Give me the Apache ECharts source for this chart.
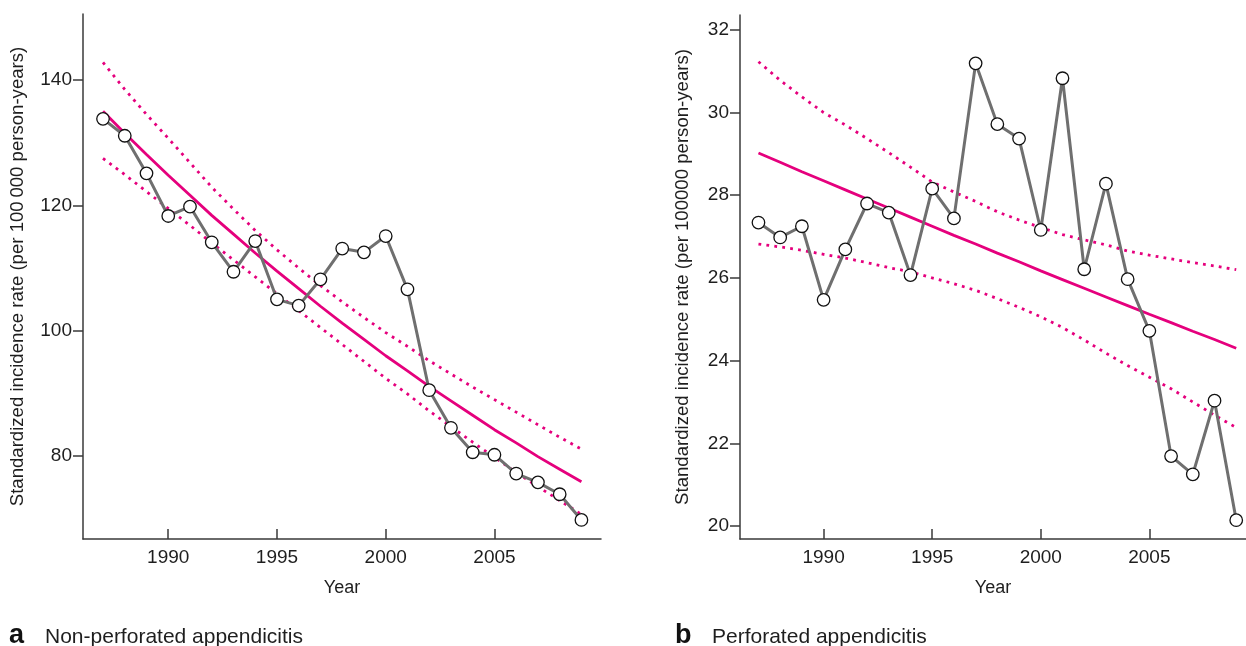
<!DOCTYPE html>
<html>
<head>
<meta charset="utf-8">
<script src="https://cdn.jsdelivr.net/npm/echarts/dist/echarts.min.js"></script>
<style>
  html, body { margin: 0; padding: 0; background: #fff; }
  #chart { width: 1246px; height: 646px; }
</style>
</head>
<body>
<div id="chart"></div>
<script>
const years = [1987, 1988, 1989, 1990, 1991, 1992, 1993, 1994, 1995, 1996, 1997, 1998,
  1999, 2000, 2001, 2002, 2003, 2004, 2005, 2006, 2007, 2008, 2009];

// a: non-perforated
const nonPerfRate = [133.8, 131.1, 125.1, 118.3, 119.8, 114.1, 109.4, 114.3, 105.0, 104.0, 108.2, 113.1,
  112.5, 115.1, 106.6, 90.5, 84.5, 80.6, 80.2, 77.2, 75.8, 73.9, 69.8];
const nonPerfFit = [135.0, 131.5, 128.1, 124.8, 121.6, 118.4, 115.4, 112.4, 109.5, 106.7, 103.9, 101.2,
  98.6, 96.0, 93.6, 91.1, 88.8, 86.5, 84.2, 82.1, 79.9, 77.9, 75.9];
const nonPerfUpper = [142.8, 138.5, 134.5, 130.7, 126.8, 122.9, 119.4, 116.0, 112.9, 110.0, 107.2, 104.6,
  102.1, 99.7, 97.5, 95.2, 93.1, 91.0, 89.0, 87.0, 85.0, 83.0, 81.1];
const nonPerfLower = [127.5, 124.9, 122.2, 119.5, 116.8, 114.0, 111.3, 108.6, 105.9, 103.2, 100.5, 97.8,
  95.1, 92.4, 89.9, 87.2, 84.7, 82.2, 79.8, 77.4, 75.1, 72.9, 70.7];

// b: perforated
const perfRate = [27.34, 26.98, 27.25, 25.47, 26.69, 27.80, 27.58, 26.07, 28.16, 27.44, 31.19, 29.72,
  29.37, 27.16, 30.83, 26.21, 28.28, 25.97, 24.72, 21.69, 21.25, 23.03, 20.14];
const perfFit = [29.02, 28.80, 28.57, 28.35, 28.13, 27.91, 27.69, 27.47, 27.25, 27.03, 26.82, 26.60,
  26.39, 26.17, 25.96, 25.75, 25.54, 25.33, 25.12, 24.92, 24.71, 24.51, 24.30];
const perfUpper = [31.23, 30.78, 30.38, 30.00, 29.70, 29.37, 29.03, 28.68, 28.32, 28.08, 27.85, 27.60,
  27.40, 27.22, 27.05, 26.92, 26.80, 26.65, 26.55, 26.46, 26.37, 26.29, 26.20];
const perfLower = [26.82, 26.75, 26.67, 26.57, 26.48, 26.37, 26.25, 26.15, 26.00, 25.86, 25.70, 25.50,
  25.29, 25.06, 24.80, 24.50, 24.18, 23.88, 23.60, 23.32, 23.00, 22.68, 22.38];

const yearTicks = [1990, 1995, 2000, 2005];
const nonPerfTicks = [80, 100, 120, 140];
const perfTicks = [20, 22, 24, 26, 28, 30, 32];

const FONT = "'Liberation Sans', Arial, Helvetica, sans-serif";
const AXIS_COLOR = "#3a3a3a";
const TEXT_COLOR = "#1e1e1e";
const MAGENTA = "#e5007d";
const GREY = "#6f6f6f";

const pairs = (vals) => years.map((y, i) => [y, vals[i]]);

function xAxisFor(gridIndex, min, max) {
  return {
    type: "value",
    gridIndex: gridIndex,
    min: min,
    max: max,
    name: "Year",
    nameLocation: "middle",
    nameGap: 40,
    nameTextStyle: { fontFamily: FONT, fontSize: 18, color: TEXT_COLOR },
    axisLine: { show: true, onZero: false, lineStyle: { color: AXIS_COLOR, width: 1.5 } },
    axisTick: { show: true, inside: true, length: 10, customValues: yearTicks,
      lineStyle: { color: AXIS_COLOR, width: 1.5 } },
    axisLabel: { customValues: yearTicks, fontFamily: FONT, fontSize: 19, color: TEXT_COLOR, margin: 9,
      formatter: (v) => String(v) },
    splitLine: { show: false },
  };
}

function yAxisFor(gridIndex, min, max, ticks, name, gap) {
  return {
    type: "value",
    gridIndex: gridIndex,
    min: min,
    max: max,
    name: name,
    nameLocation: "middle",
    nameRotate: 90,
    nameGap: gap,
    nameTextStyle: { fontFamily: FONT, fontSize: 18.6, color: TEXT_COLOR },
    axisLine: { show: true, onZero: false, lineStyle: { color: AXIS_COLOR, width: 1.5 } },
    axisTick: { show: true, inside: false, length: 10, customValues: ticks,
      lineStyle: { color: AXIS_COLOR, width: 1.5 } },
    axisLabel: { customValues: ticks, fontFamily: FONT, fontSize: 19, color: TEXT_COLOR, margin: 11,
      formatter: (v) => String(v) },
    splitLine: { show: false },
  };
}

function bandSeries(idx, vals) {
  return {
    type: "line",
    xAxisIndex: idx,
    yAxisIndex: idx,
    data: pairs(vals),
    showSymbol: false,
    lineStyle: { color: MAGENTA, width: 2.8, type: [2.8, 5.2], cap: "butt" },
    z: 2,
  };
}

function fitSeries(idx, vals) {
  return {
    type: "line",
    xAxisIndex: idx,
    yAxisIndex: idx,
    data: pairs(vals),
    showSymbol: false,
    lineStyle: { color: MAGENTA, width: 2.8 },
    z: 3,
  };
}

function rateSeries(idx, vals) {
  return {
    type: "line",
    xAxisIndex: idx,
    yAxisIndex: idx,
    data: pairs(vals),
    symbol: "circle",
    symbolSize: 12.5,
    showAllSymbol: true,
    lineStyle: { color: GREY, width: 3 },
    itemStyle: { color: "#ffffff", borderColor: "#111111", borderWidth: 1.3 },
    z: 4,
  };
}

const myChart = echarts.init(document.getElementById("chart"), null, { renderer: "canvas" });

const option = {
  backgroundColor: "#ffffff",
  animation: false,
  grid: [
    { left: 83, top: 14, width: 518, height: 525 },
    { left: 740, top: 15, width: 506, height: 524 },
  ],
  xAxis: [
    xAxisFor(0, 1986.08, 2009.9),
    xAxisFor(1, 1986.15, 2009.45),
  ],
  yAxis: [
    yAxisFor(0, 66.76, 150.53, nonPerfTicks,
      "Standardized incidence rate (per 100\u2009000 person-years)", 56),
    yAxisFor(1, 19.685, 32.36, perfTicks,
      "Standardized incidence rate (per 100000 person-years)", 48),
  ],
  series: [
    bandSeries(0, nonPerfUpper),
    bandSeries(0, nonPerfLower),
    fitSeries(0, nonPerfFit),
    rateSeries(0, nonPerfRate),
    bandSeries(1, perfUpper),
    bandSeries(1, perfLower),
    fitSeries(1, perfFit),
    rateSeries(1, perfRate),
  ],
  graphic: [
    { type: "text", left: 9, top: 622,
      style: { text: "a", fontFamily: FONT, fontSize: 27, fontWeight: "bold", fill: "#111" } },
    { type: "text", left: 45, top: 627,
      style: { text: "Non-perforated appendicitis", fontFamily: FONT, fontSize: 21, fill: TEXT_COLOR } },
    { type: "text", left: 675, top: 622,
      style: { text: "b", fontFamily: FONT, fontSize: 27, fontWeight: "bold", fill: "#111" } },
    { type: "text", left: 712, top: 627,
      style: { text: "Perforated appendicitis", fontFamily: FONT, fontSize: 21, fill: TEXT_COLOR } },
  ],
};

myChart.setOption(option);
</script>
</body>
</html>
